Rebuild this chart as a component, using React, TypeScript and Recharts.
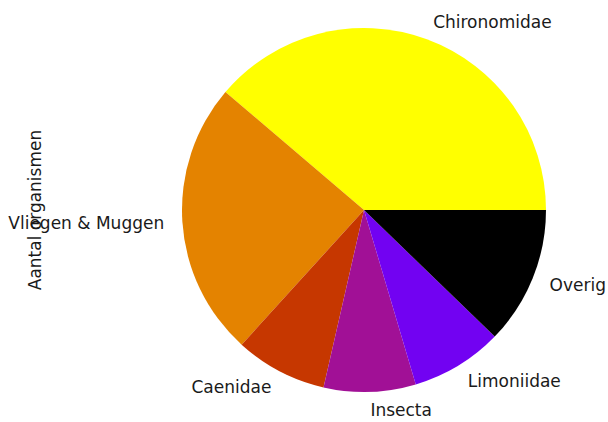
import React from "react";
import { PieChart, Pie, Cell } from "recharts";

const categories = ["Chironomidae", "Vliegen & Muggen", "Caenidae", "Insecta", "Limoniidae", "Overig"];
const counts = [19, 12, 4, 4, 4, 6];
const colors = ["#ffff00", "#e48300", "#c63700", "#a11096", "#7202f2", "#000000"];
const yLabel = "Aantal organismen";

const data = categories.map((name, i) => ({ name, value: counts[i] }));

const RAD = Math.PI / 180;
const FONT = 17;

const renderLabel = (props: any) => {
  const { cx, cy, midAngle, outerRadius, name } = props;
  const r = outerRadius * 1.1;
  const x = cx + r * Math.cos(-midAngle * RAD);
  const y = cy + r * Math.sin(-midAngle * RAD);
  const anchor = Math.cos(-midAngle * RAD) >= 0 ? "start" : "end";
  return (
    <text
      x={x}
      y={y}
      textAnchor={anchor}
      dominantBaseline="central"
      fill="#1a1a1a"
      fontFamily="DejaVu Sans"
      fontSize={FONT}
    >
      {name}
    </text>
  );
};

export default function App() {
  return (
    <div style={{ position: "relative", width: 608, height: 422, fontFamily: "DejaVu Sans" }}>
      <style>{"html,body{margin:0;padding:0;overflow:hidden;}"}</style>
      <PieChart width={608} height={422} margin={{ top: 0, right: 0, bottom: 0, left: 0 }}>
        <Pie
          data={data}
          dataKey="value"
          nameKey="name"
          cx={364}
          cy={210}
          outerRadius={182}
          startAngle={0}
          endAngle={360}
          stroke="none"
          label={renderLabel}
          labelLine={false}
          isAnimationActive={false}
        >
          {data.map((d, i) => (
            <Cell key={d.name} fill={colors[i]} />
          ))}
        </Pie>
      </PieChart>
      <svg width={70} height={422} style={{ position: "absolute", left: 0, top: 0, pointerEvents: "none" }}>
        <text
          x={35}
          y={210}
          transform="rotate(-90 35 210)"
          textAnchor="middle"
          dominantBaseline="central"
          fill="#1a1a1a"
          fontFamily="DejaVu Sans"
          fontSize={FONT}
        >
          {yLabel}
        </text>
      </svg>
    </div>
  );
}
